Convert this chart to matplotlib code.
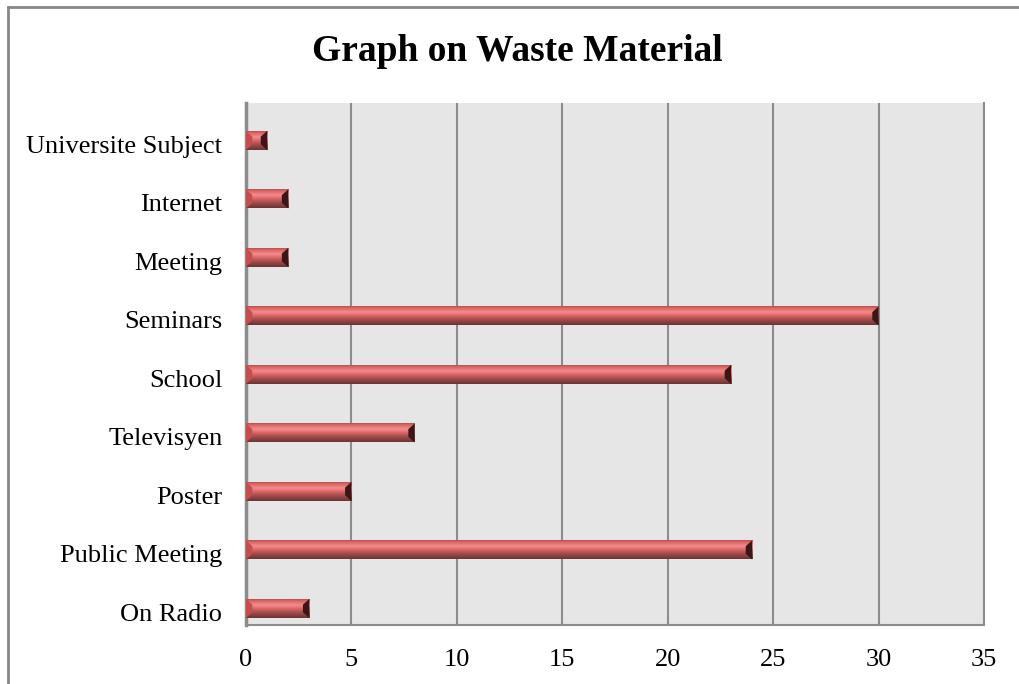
import numpy as np
import matplotlib
matplotlib.use("Agg")
import matplotlib.pyplot as plt
from matplotlib.lines import Line2D
from matplotlib.patches import Polygon
from matplotlib.colors import LinearSegmentedColormap
from matplotlib.transforms import ScaledTranslation

categories = ["On Radio", "Public Meeting", "Poster", "Televisyen", "School",
              "Seminars", "Meeting", "Internet", "Universite Subject"]
values = [3, 24, 5, 8, 23, 30, 2, 2, 1]
xticks = [0, 5, 10, 15, 20, 25, 30, 35]
title = "Graph on Waste Material"

plt.rcParams['font.family'] = ['Liberation Serif', 'DejaVu Serif']

fig = plt.figure(figsize=(10.19, 6.84), dpi=100)
fig.patch.set_facecolor('white')
ax = fig.add_axes([0.2414, 0.0863, 0.7243, 0.7632])
ax.set_facecolor('#e6e6e6')

n = len(categories)
ypos = np.arange(n)
h = 0.325
ax.set_xlim(0, 35)
ax.set_ylim(-0.282, n - 1 + 0.641)

# vertical gradient profile (top -> bottom)
cmap = LinearSegmentedColormap.from_list('bev', [
    (0.0, '#9a4848'), (0.12, '#d86060'), (0.35, '#f48c8c'),
    (0.55, '#d86262'), (0.75, '#9c4a4a'), (1.0, '#6e3434')])
grad = np.linspace(0, 1, 64).reshape(-1, 1)

bars = ax.barh(ypos, values, height=h, color='#c05858', zorder=3)
bw = 0.3
bh = h * 0.3
for yi, v, b in zip(ypos, values, bars):
    top, bot = yi + h / 2, yi - h / 2
    im = ax.imshow(grad, cmap=cmap, aspect='auto', origin='upper',
                   extent=[0, v, bot, top], zorder=4, interpolation='bilinear')
    im.set_clip_path(b)
    ax.add_patch(Polygon([(v, top), (v, bot), (v - bw, bot + bh), (v - bw, top - bh)],
                         closed=True, facecolor='#3c1616', edgecolor='none', zorder=5))
    ax.add_patch(Polygon([(0, top), (0, bot), (bw, bot + bh), (bw, top - bh)],
                         closed=True, facecolor='#c44e4e', edgecolor='none', zorder=5))

ax.set_xticks(xticks)
ax.set_xticklabels([str(t) for t in xticks], fontsize=19)
ax.set_yticks(ypos)
ax.set_yticklabels(categories, fontsize=19)
ax.tick_params(axis='both', length=0)
ax.tick_params(axis='y', pad=17)
ax.tick_params(axis='x', pad=17)
off = ScaledTranslation(0, -4 / 100, fig.dpi_scale_trans)
for lbl in ax.get_yticklabels():
    lbl.set_transform(lbl.get_transform() + off)
ax.xaxis.grid(True, color='#8c8c8c', linewidth=1.5, zorder=1)
ax.set_axisbelow(True)
for s in ['left', 'bottom', 'right']:
    ax.spines[s].set_color('#8c8c8c')
    ax.spines[s].set_linewidth(1.5)
ax.spines['left'].set_linewidth(2.5)
ax.spines['top'].set_visible(False)

fig.text(0.508, 0.925, title, ha='center', va='center', fontsize=27, fontweight='bold')

fig.add_artist(Line2D([0.0079, 0.0079], [0, 0.990], color='#888888', lw=2, transform=fig.transFigure))
fig.add_artist(Line2D([0.0079, 1.0], [0.990, 0.990], color='#888888', lw=2, transform=fig.transFigure))

fig.savefig('out.png', dpi=100)
